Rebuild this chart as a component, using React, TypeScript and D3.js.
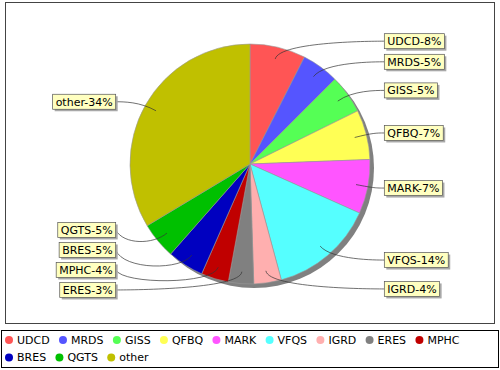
import React, { useEffect, useRef } from 'react';
import * as d3 from 'd3';

const names = ['UDCD', 'MRDS', 'GISS', 'QFBQ', 'MARK', 'VFQS', 'IGRD', 'ERES', 'MPHC', 'BRES', 'QGTS', 'other'];
const shares = [7.5, 5.0, 5.2, 6.7, 7.3, 14.1, 3.7, 3.4, 3.7, 4.9, 4.9, 33.6];
const colors = ['#ff5555', '#5555ff', '#55ff55', '#ffff55', '#ff55ff', '#55ffff', '#ffafaf', '#808080', '#c00000', '#0000c0', '#00c000', '#c0c000'];

const FONT = '"DejaVu Sans", sans-serif';

interface Slice {
  name: string;
  value: number;
  color: string;
}

export default function App() {
  const svgRef = useRef<SVGSVGElement>(null);

  useEffect(() => {
    if (!svgRef.current) return;
    const svg = d3.select(svgRef.current);
    svg.selectAll('*').remove();

    const cx = 250, cy = 164, r = 120;
    const linkR = r / 0.95; // link area, like jfreechart's label link margin
    const gap = 8;

    svg.append('rect').attr('width', 500).attr('height', 370).attr('fill', '#fff');

    // plot outline
    svg.append('rect')
      .attr('x', 5.5).attr('y', 2.5).attr('width', 489).attr('height', 321)
      .attr('fill', 'none').attr('stroke', '#444').attr('stroke-width', 1);

    const data: Slice[] = names.map((n, i) => ({ name: n, value: shares[i], color: colors[i] }));
    const arcs = d3.pie<Slice>().value(d => d.value).sort(null)(data);
    const arc = d3.arc<d3.PieArcDatum<Slice>>().innerRadius(0).outerRadius(r);

    const g = svg.append('g').attr('transform', `translate(${cx},${cy})`);
    // drop shadow
    g.append('circle').attr('cx', 4).attr('cy', 4).attr('r', r).attr('fill', '#808080');
    g.selectAll('path.slice')
      .data(arcs)
      .enter()
      .append('path')
      .attr('class', 'slice')
      .attr('d', arc)
      .attr('fill', d => d.data.color)
      .attr('stroke', '#999')
      .attr('stroke-width', 0.6);

    // label records, pushed apart from the bottom up
    const recs = arcs.map(a => {
      const mid = (a.startAngle + a.endAngle) / 2;
      return { a, mid, right: mid < Math.PI, y: cy - Math.cos(mid) * linkR };
    });
    [true, false].forEach(side => {
      const list = recs.filter(d => d.right === side).sort((p, q) => p.y - q.y);
      for (let i = list.length - 2; i >= 0; i--) {
        if (list[i].y > list[i + 1].y - 20) list[i].y = list[i + 1].y - 20;
      }
    });

    recs.forEach(rec => {
      const s = rec.right ? 1 : -1;
      const ex = cx + Math.sin(rec.mid) * linkR;
      const ey = cy - Math.cos(rec.mid) * linkR;
      const lx = cx + Math.sin(rec.mid) * r * 0.9;
      const ly = cy - Math.cos(rec.mid) * r * 0.9;
      const ax = cx + s * linkR;
      const tx = ax + s * gap;
      const ty = rec.y;

      svg.append('path')
        .attr('d', `M${tx},${ty}C${ax},${ey} ${ex},${ey} ${lx},${ly}`)
        .attr('fill', 'none')
        .attr('stroke', '#333')
        .attr('stroke-width', 0.7);

      const lg = svg.append('g');
      const txt = lg.append('text')
        .text(`${rec.a.data.name}-${Math.round(rec.a.data.value)}%`)
        .attr('font-family', FONT)
        .attr('font-size', 11)
        .attr('fill', '#000')
        .attr('dy', '0.36em');
      const tw = (txt.node() as SVGTextElement).getComputedTextLength();
      const bw = tw + 6, bh = 15;
      const bx = rec.right ? tx : tx - bw;
      const by = ty - bh / 2;
      txt.attr('x', bx + 3).attr('y', ty);
      lg.insert('rect', 'text')
        .attr('x', bx + 2).attr('y', by + 2).attr('width', bw).attr('height', bh)
        .attr('fill', '#a8a8a8');
      lg.insert('rect', 'text')
        .attr('x', bx).attr('y', by).attr('width', bw).attr('height', bh)
        .attr('fill', '#ffffc0').attr('stroke', '#555').attr('stroke-width', 0.7);
    });

    // legend
    svg.append('rect')
      .attr('x', 1.5).attr('y', 330.5).attr('width', 497).attr('height', 37)
      .attr('fill', '#fff').attr('stroke', '#000').attr('stroke-width', 1);

    let x = 5, row = 0;
    names.forEach((n, i) => {
      const item = svg.append('g');
      const t = item.append('text')
        .text(n)
        .attr('font-family', FONT)
        .attr('font-size', 11)
        .attr('fill', '#000')
        .attr('dy', '0.36em');
      const w = (t.node() as SVGTextElement).getComputedTextLength();
      if (x + 12 + w > 495) {
        x = 5;
        row++;
      }
      const y = 340 + row * 17.5;
      item.append('circle').attr('cx', x + 4).attr('cy', y).attr('r', 4).attr('fill', colors[i]);
      t.attr('x', x + 12).attr('y', y);
      x += 12 + w + 9.3;
    });
  }, []);

  return (
    <div style={{ position: 'absolute', left: 0, top: 0, width: 500, height: 370 }}>
      <svg ref={svgRef} width={500} height={370} style={{ display: 'block' }} />
    </div>
  );
}
